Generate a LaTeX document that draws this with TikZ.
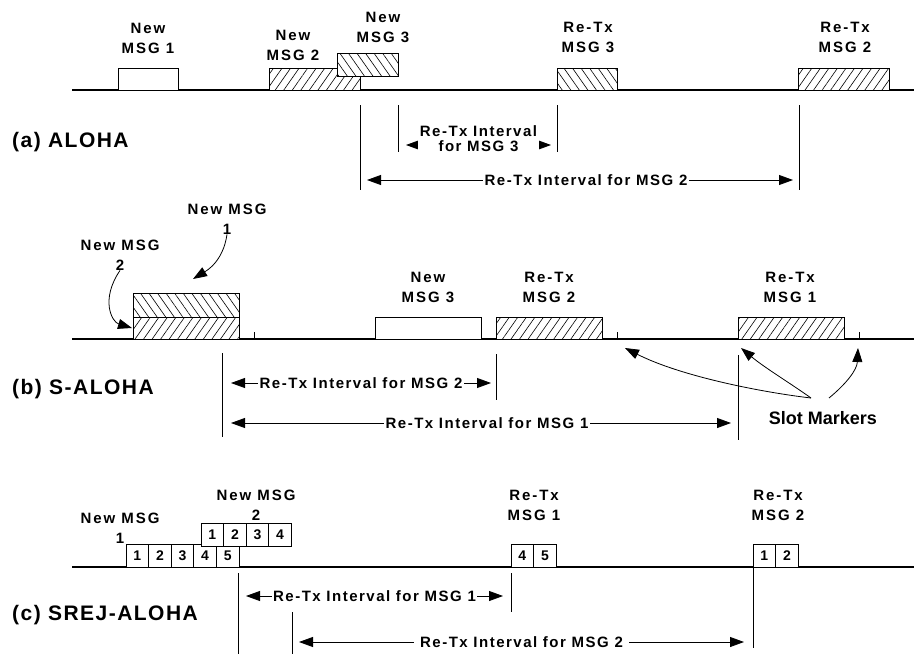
\documentclass[tikz,border=0pt]{standalone}
\usepackage{fontspec}
\setmainfont{Liberation Sans}
\newfontfamily\lblfont[LetterSpace=13]{Liberation Sans}
\newfontfamily\ivfont[LetterSpace=10]{Liberation Sans}
\newfontfamily\ttlfont[LetterSpace=7]{Liberation Sans}
\usepackage{tikz}
\usetikzlibrary{positioning,arrows.meta,patterns.meta}
\tikzset{
  pkt/.style={draw,fill=white,line width=0.7pt,inner sep=0pt,minimum height=22pt},
  pktNE/.style={pkt,postaction={pattern={Lines[angle=55,distance=7pt,line width=0.6pt]}}},
  pktNW/.style={pkt,postaction={pattern={Lines[angle=-55,distance=7pt,line width=0.6pt]}}},
  cell/.style={draw,fill=white,line width=0.7pt,inner sep=0pt,
    minimum width=22.6pt,minimum height=23pt,
    font=\fontsize{14}{16}\selectfont\bfseries},
  msglbl/.style={align=center,inner sep=0pt,
    font=\fontsize{15}{20}\selectfont\lblfont\bfseries},
  ivlbl/.style={fill=white,inner sep=1.5pt,align=center,
    font=\fontsize{15}{15}\selectfont\ivfont\bfseries},
  ttlnode/.style={anchor=west,inner sep=0pt,
    font=\fontsize{21}{24}\selectfont\ttlfont\bfseries},
  tline/.style={line width=1.6pt},
  vbar/.style={line width=1pt},
  ivarr/.style={line width=0.8pt,
    {Triangle[length=14pt,width=10pt]}-{Triangle[length=14pt,width=10pt]}},
  ptarr/.style={line width=0.8pt,-{Triangle[length=14pt,width=10pt]}},
}
\begin{document}
\begin{tikzpicture}[x=1pt,y=-1pt]
  \useasboundingbox (0,0) rectangle (914,654);
  % (a) ALOHA
  \draw[tline] (72,90) -- (914,90);
  \node[pkt,minimum width=60pt] (a1) at (148,79) {};
  \node[pktNE,minimum width=91pt] (a2) at (314.5,79) {};
  \node[pktNW,minimum width=61pt,minimum height=23pt] (a3) at (367.5,64.5) {};
  \node[pktNW,minimum width=60pt] (ar3) at (587,79) {};
  \node[pktNE,minimum width=91pt] (ar2) at (843.5,79) {};
  \node[msglbl] (a1lbl) at (148,38) {New\\MSG 1};
  \node[msglbl] (a2lbl) at (293,45) {New\\MSG 2};
  \node[msglbl] (a3lbl) at (383,27) {New\\MSG 3};
  \node[msglbl] (ar3lbl) at (588,37) {Re-Tx\\MSG 3};
  \node[msglbl] (ar2lbl) at (845,37) {Re-Tx\\MSG 2};
  \node[ttlnode] (ttla) at (12,142) {(a) ALOHA};
  \draw[vbar] (360,105) -- (360,190);
  \draw[vbar] (398,105) -- (398,152);
  \draw[vbar] (557,105) -- (557,152);
  \draw[vbar] (799,105) -- (799,190);
  \coordinate (ia3l) at (406,145);
  \coordinate (ia3r) at (551,145);
  \coordinate (ia2l) at (367,180);
  \coordinate (ia2r) at (793,180);
  \draw[ivarr] (ia3l) -- (ia3r) node[midway,ivlbl,yshift=6pt] {Re-Tx Interval\\for MSG 3};
  \draw[ivarr] (ia2l) -- (ia2r) node[midway,ivlbl,xshift=6pt] {Re-Tx Interval for MSG 2};
  % (b) S-ALOHA
  \draw[tline] (72,339) -- (914,339);
  \foreach \x in {133,254,...,859} \draw[vbar] (\x,332) -- (\x,339);
  \node[pktNE,minimum width=106pt] (b2) at (186,328) {};
  \node[pktNW,minimum width=106pt,minimum height=24pt] (b1) at (186,305) {};
  \node[pkt,minimum width=106pt] (b3) at (428,328) {};
  \node[pktNE,minimum width=106pt] (br2) at (549,328) {};
  \node[pktNE,minimum width=106pt] (br1) at (791,328) {};
  \node[msglbl] (b1lbl) at (227,219) {New MSG\\1};
  \node[msglbl] (b2lbl) at (120,255) {New MSG\\2};
  \node[msglbl] (b3lbl) at (428,287) {New\\MSG 3};
  \node[msglbl] (br2lbl) at (549,287) {Re-Tx\\MSG 2};
  \node[msglbl] (br1lbl) at (790,287) {Re-Tx\\MSG 1};
  \node[ttlnode] (ttlb) at (12,389) {(b) S-ALOHA};
  \coordinate (b1tip) at (193,279);
  \coordinate (b2tip) at (132,328);
  \draw[ptarr] (b1lbl.south) .. controls (223,262) and (206,271) .. (b1tip);
  \draw[ptarr] (b2lbl.south) .. controls (100,300) and (112,322) .. (b2tip);
  \draw[vbar] (222,353) -- (222,437);
  \draw[vbar] (496,354) -- (496,400);
  \draw[vbar] (738,355) -- (738,440);
  \coordinate (ib2l) at (231,383);
  \coordinate (ib2r) at (491,383);
  \coordinate (ib1l) at (231,423);
  \coordinate (ib1r) at (731,423);
  \draw[ivarr] (ib2l) -- (ib2r) node[midway,ivlbl] {Re-Tx Interval for MSG 2};
  \draw[ivarr] (ib1l) -- (ib1r) node[midway,ivlbl,xshift=6pt] {Re-Tx Interval for MSG 1};
  \node[font=\fontsize{18}{20}\selectfont\bfseries,inner sep=0pt] (slot) at (823,418) {Slot Markers};
  \coordinate (sm1) at (811,398);
  \coordinate (sm2) at (829,398);
  \coordinate (tk1) at (625,348);
  \coordinate (tk2) at (741,348);
  \coordinate (tk3) at (858,348);
  \draw[ptarr] (sm1) .. controls (760,392) and (680,376) .. (tk1);
  \draw[ptarr] (sm1) .. controls (790,383) and (765,368) .. (tk2);
  \draw[ptarr] (sm2) .. controls (846,384) and (857,370) .. (tk3);
  % (c) SREJ-ALOHA
  \draw[tline] (72,567) -- (914,567);
  \foreach \i in {1,...,5}
    \node[cell] (c1\i) at (114.7+22.6*\i,555.5) {\i};
  \foreach \i in {1,...,4}
    \node[cell] (c2\i) at (189.7+22.6*\i,535) {\i};
  \foreach \i [count=\k] in {4,5}
    \node[cell] (cr1\i) at (499.7+22.6*\k,555.5) {\i};
  \foreach \i in {1,2}
    \node[cell] (cr2\i) at (741.7+22.6*\i,555.5) {\i};
  \node[msglbl] (c1lbl) at (120,528) {New MSG\\1};
  \node[msglbl] (c2lbl) at (256,505) {New MSG\\2};
  \node[msglbl] (cr1lbl) at (534,505) {Re-Tx\\MSG 1};
  \node[msglbl] (cr2lbl) at (778,505) {Re-Tx\\MSG 2};
  \node[ttlnode] (ttlc) at (12,615) {(c) SREJ-ALOHA};
  \draw[vbar] (238,573) -- (238,654);
  \draw[vbar] (292,612) -- (292,654);
  \draw[vbar] (511,573) -- (511,612);
  \draw[vbar] (753,567) -- (753,648);
  \coordinate (ic1l) at (246,596);
  \coordinate (ic1r) at (503,596);
  \coordinate (ic2l) at (299,642);
  \coordinate (ic2r) at (744,642);
  \draw[ivarr] (ic1l) -- (ic1r) node[midway,ivlbl] {Re-Tx Interval for MSG 1};
  \draw[ivarr] (ic2l) -- (ic2r) node[midway,ivlbl,inner xsep=6pt] {Re-Tx Interval for MSG 2};
\end{tikzpicture}
\end{document}
